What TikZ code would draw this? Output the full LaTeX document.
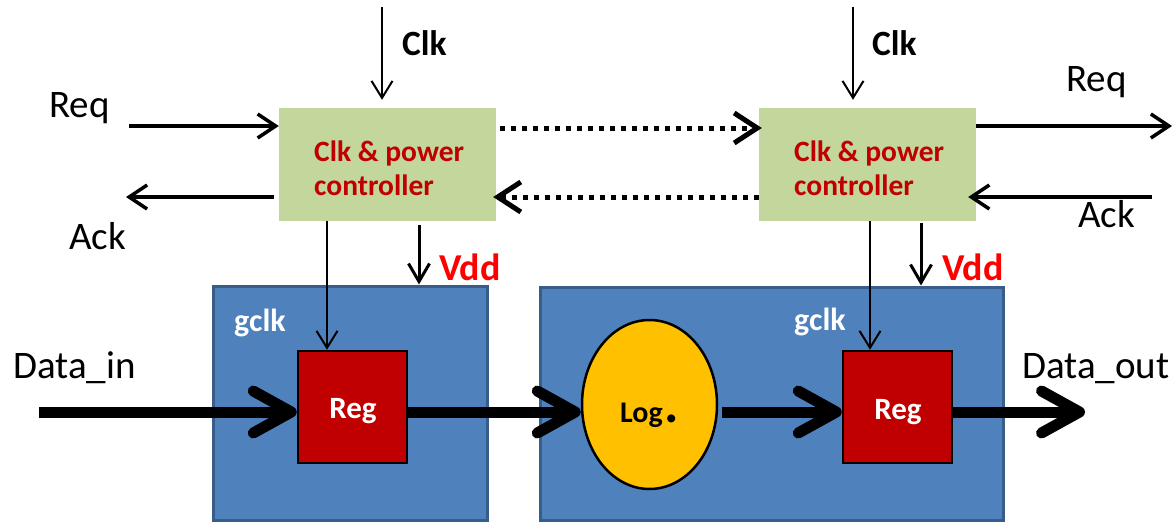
\documentclass[tikz,border=0pt]{standalone}
\usepackage{fontspec}
\setmainfont{Carlito}
\usetikzlibrary{arrows.meta,shapes.geometric}

\definecolor{ctlgreen}{HTML}{C3D69B}
\definecolor{ctltext}{HTML}{C00000}
\definecolor{blockfill}{HTML}{4F81BD}
\definecolor{blockedge}{HTML}{385D8A}
\definecolor{regred}{HTML}{C00000}
\definecolor{logicfill}{HTML}{FFC000}
\definecolor{vddred}{HTML}{FF0000}

\tikzset{
  ctl/.style={fill=ctlgreen, minimum width=217pt, minimum height=113pt,
    inner sep=0pt},
  ctltxt/.style={anchor=base west, inner sep=0pt, align=left, text=ctltext,
    font=\fontsize{29.5}{34}\selectfont\bfseries},
  block/.style={fill=blockfill, draw=blockedge, line width=3pt, inner sep=0pt},
  regbox/.style={fill=regred, draw=black, line width=2.5pt,
    minimum width=109pt, minimum height=112pt, inner sep=0pt},
  regtxt/.style={anchor=base, inner sep=0pt, text=white,
    font=\fontsize{31}{36}\selectfont\bfseries},
  logicbox/.style={ellipse, fill=logicfill, draw=black, line width=2.5pt,
    minimum width=135pt, minimum height=169pt, inner sep=0pt},
  logictxt/.style={anchor=base west, inner sep=0pt,
    font=\fontsize{30}{34}\selectfont\bfseries},
  plainlabel/.style={anchor=base west, inner sep=0pt,
    font=\fontsize{39}{44}\selectfont},
  clklabel/.style={anchor=base west, inner sep=0pt,
    font=\fontsize{35.5}{40}\selectfont\bfseries},
  vddlabel/.style={anchor=base west, inner sep=0pt, text=vddred,
    font=\fontsize{38}{42}\selectfont\bfseries},
  gclklabel/.style={anchor=base west, inner sep=0pt, text=white,
    font=\fontsize{32}{36}\selectfont\bfseries},
  thinarrow/.style={line width=2pt, -{Straight Barb[length=17pt,width=21pt]}},
  sigarrow/.style={line width=3.5pt, -{Straight Barb[length=18pt,width=24pt]}},
  vddarrow/.style={line width=3pt, -{Straight Barb[length=18pt,width=21pt]}},
  dotarrow/.style={line width=5pt, dash pattern=on 5pt off 6pt,
    -{Straight Barb[length=23pt,width=30pt]}},
  dataarrow/.style={line width=11pt, -{Straight Barb[length=38pt,width=42pt,round]}}
}

\begin{document}
\begin{tikzpicture}[x=1pt,y=-1pt]
\useasboundingbox (0,0) rectangle (1173,522);

% power domains
\node[block, minimum width=274pt, minimum height=234pt] (blkL) at (350,403) {};
\node[block, minimum width=463pt, minimum height=233pt] (blkR) at (771.5,403.5) {};

% controllers (text anchored on the baseline of its last line)
\node[ctl] (ctlL) at (387.5,164.5) {};
\node[ctl] (ctlR) at (867.5,164.5) {};
\node[ctltxt] (ctlLtxt) at (314,195) {Clk \& power\\controller};
\node[ctltxt] (ctlRtxt) at (794,195) {Clk \& power\\controller};

% registers and logic
\node[regbox] (regL) at (352.5,407) {};
\node[regbox] (regR) at (897.5,407) {};
\node[logicbox] (logic) at (649.5,404.5) {};
\node[regtxt] (regLtxt) at (353,418) {Reg};
\node[regtxt] (regRtxt) at (898,419) {Reg};
\node[logictxt] (logictxt) at (620,422) {Log\kern2pt{\fontsize{54}{54}\selectfont.}};

% data path
\coordinate (yd) at (0,412);
\coordinate (dinS) at (39,412);
\coordinate (doutE) at (1085,412);
\draw[dataarrow] (dinS) -- (regL.west |- yd);
\draw[dataarrow] (regL.east |- yd) -- (logic.west |- yd);
\draw[dataarrow, shorten <=4pt] (logic.east |- yd) -- (regR.west |- yd);
\draw[dataarrow] (regR.east |- yd) -- (doutE);

% clock inputs
\coordinate (clkLtop) at (382,7);
\coordinate (clkRtop) at (853,7);
\draw[thinarrow, shorten >=8pt] (clkLtop) -- (clkLtop |- ctlL.north);
\draw[thinarrow, shorten >=8pt] (clkRtop) -- (clkRtop |- ctlR.north);

% handshake signals
\coordinate (reqLin) at (129,126);
\coordinate (ackLout) at (126,197);
\coordinate (reqRout) at (1172,126);
\coordinate (ackRin) at (1152,197);
\draw[sigarrow] (reqLin) -- (reqLin -| ctlL.west);
\draw[sigarrow, shorten <=5pt] (ackLout -| ctlL.west) -- (ackLout);
\draw[sigarrow] (reqRout -| ctlR.east) -- (reqRout);
\draw[sigarrow, shorten >=-8pt] (ackRin) -- (ackRin -| ctlR.east);

% controller-to-controller links
\coordinate (fwd) at (0,128);
\coordinate (bwd) at (0,197);
\draw[dotarrow, shorten <=4pt, shorten >=-3pt] (fwd -| ctlL.east) -- (fwd -| ctlR.west);
\draw[dotarrow, shorten >=-3pt] (bwd -| ctlR.west) -- (bwd -| ctlL.east);

% gated clocks
\coordinate (gL) at (327,0);
\coordinate (gR) at (870,0);
\draw[thinarrow] (gL |- ctlL.south) -- (gL |- regL.north);
\draw[thinarrow] (gR |- ctlR.south) -- (gR |- regR.north);

% supply
\coordinate (vL) at (419,0);
\coordinate (vR) at (921,0);
\draw[vddarrow, shorten <=4pt] (vL |- ctlL.south) -- (vL |- blkL.north);
\draw[vddarrow, shorten <=2pt] (vR |- ctlR.south) -- (vR |- blkR.north);

% labels
\node[clklabel] (clkLlab) at (402,55) {Clk};
\node[clklabel] (clkRlab) at (872,55) {Clk};
\node[plainlabel] (reqLlab) at (49,117) {Req};
\node[plainlabel] (ackLlab) at (69,249) {Ack};
\node[plainlabel] (reqRlab) at (1066,91) {Req};
\node[plainlabel] (ackRlab) at (1078,227) {Ack};
\node[vddlabel] (vddLlab) at (439,280) {Vdd};
\node[vddlabel] (vddRlab) at (942,280) {Vdd};
\node[gclklabel] (gclkLlab) at (234,331) {gclk};
\node[gclklabel] (gclkRlab) at (794,330) {gclk};
\node[plainlabel] (dinlab) at (13,378) {Data\_in};
\node[plainlabel] (doutlab) at (1022,378) {Data\_out};
\end{tikzpicture}
\end{document}
